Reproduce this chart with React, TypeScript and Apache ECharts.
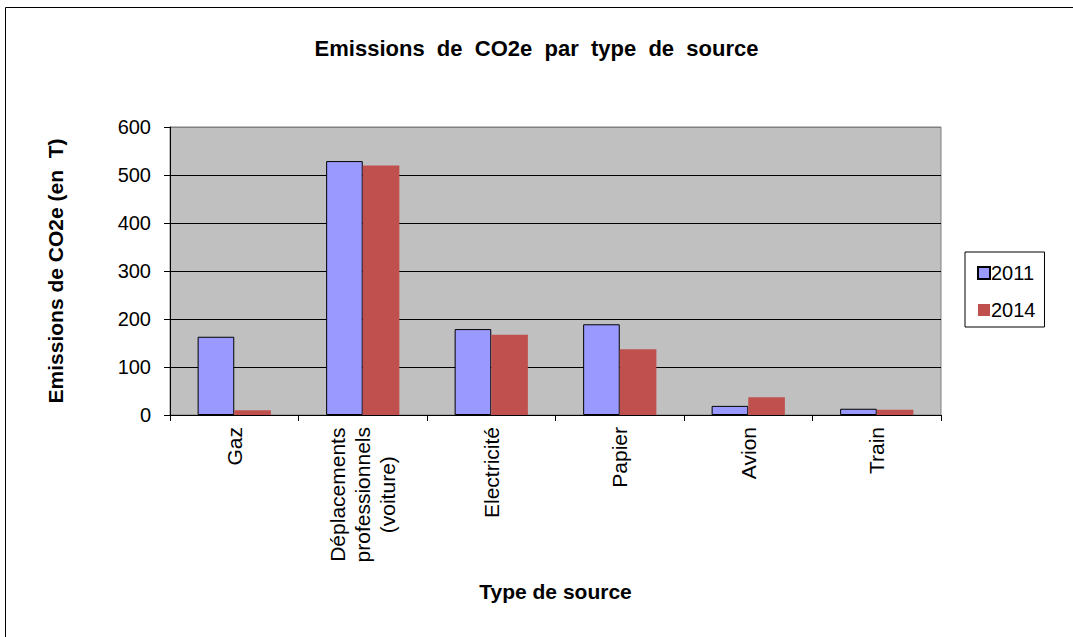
import React, { useEffect, useRef } from 'react';
import * as echarts from 'echarts';

const categories = ['Gaz', 'Déplacements\nprofessionnels\n(voiture)', 'Electricité', 'Papier', 'Avion', 'Train'];
const values2011 = [163, 529, 179, 189, 19, 13];
const values2014 = [10, 520, 167, 137, 37, 11];
const seriesNames = ['2011', '2014'];
const yMin = 0;
const yMax = 600;
const yInterval = 100;

const FONT = "'Liberation Sans', Arial, sans-serif";

export default function App() {
  const ref = useRef<HTMLDivElement>(null);
  useEffect(() => {
    if (!ref.current) return;
    const chart = echarts.init(ref.current, undefined, { renderer: 'svg' });
    chart.setOption({
      animation: false,
      backgroundColor: '#ffffff',
      textStyle: { fontFamily: FONT, color: '#000' },
      title: {
        text: 'Emissions  de  CO2e  par  type  de  source',
        left: 'center',
        top: 37,
        padding: 0,
        textStyle: { fontFamily: FONT, fontSize: 22, fontWeight: 'bold', color: '#000' },
      },
      graphic: [
        {
          type: 'rect',
          shape: { x: 5.5, y: 7.5, width: 1200, height: 800 },
          style: { fill: 'none', stroke: '#000', lineWidth: 1 },
          silent: true,
          z: 100,
        },
      ],
      legend: {
        orient: 'vertical',
        left: 965,
        top: 252,
        padding: [11, 9, 7, 12],
        itemGap: 17,
        itemWidth: 12,
        itemHeight: 12,
        borderColor: '#000',
        borderWidth: 1,
        icon: 'rect',
        textStyle: { fontFamily: FONT, fontSize: 20, color: '#000', padding: [0, 0, 0, -4] },
        data: seriesNames,
      },
      grid: {
        left: 170,
        top: 127,
        right: 132,
        bottom: 222,
        show: true,
        backgroundColor: '#C0C0C0',
        borderColor: '#808080',
        borderWidth: 1,
      },
      xAxis: {
        type: 'category',
        data: categories,
        name: 'Type de source',
        nameLocation: 'middle',
        nameGap: 166,
        nameTextStyle: { fontFamily: FONT, fontSize: 21, fontWeight: 'bold', color: '#000' },
        axisLine: { lineStyle: { color: '#000', width: 1 } },
        axisTick: { show: true, length: 6, lineStyle: { color: '#000' } },
        axisLabel: {
          rotate: 90,
          margin: 12,
          interval: 0,
          color: '#000',
          fontFamily: FONT,
          fontSize: 21,
          formatter: (v: string) => v.split('\n').map((l) => `{c|${l}}`).join('\n'),
          rich: {
            c: { align: 'center', fontFamily: FONT, fontSize: 21, color: '#000', lineHeight: 25 },
          },
        },
      },
      yAxis: {
        type: 'value',
        min: yMin,
        max: yMax,
        interval: yInterval,
        name: 'Emissions de CO2e (en  T)',
        nameLocation: 'middle',
        nameGap: 104,
        nameRotate: 90,
        nameTextStyle: { fontFamily: FONT, fontSize: 21, fontWeight: 'bold', color: '#000' },
        axisLine: { show: true, lineStyle: { color: '#000', width: 1 } },
        axisTick: { show: true, length: 6, lineStyle: { color: '#000' } },
        axisLabel: { margin: 19, color: '#000', fontFamily: FONT, fontSize: 20 },
        splitLine: {
          show: true,
          lineStyle: { color: ['#000', '#000', '#000', '#000', '#000', '#000', '#808080'], width: 1 },
        },
      },
      series: [
        {
          name: seriesNames[0],
          type: 'bar',
          data: values2011,
          barGap: '0%',
          barCategoryGap: '43%',
          itemStyle: { color: '#9999FF', borderColor: '#000', borderWidth: 1 },
        },
        {
          name: seriesNames[1],
          type: 'bar',
          data: values2014,
          barGap: '0%',
          barCategoryGap: '43%',
          itemStyle: { color: '#C0504D' },
        },
      ],
    });
    return () => chart.dispose();
  }, []);
  return (
    <div
      ref={ref}
      style={{ position: 'absolute', left: 0, top: 0, width: 1073, height: 637 }}
    />
  );
}
